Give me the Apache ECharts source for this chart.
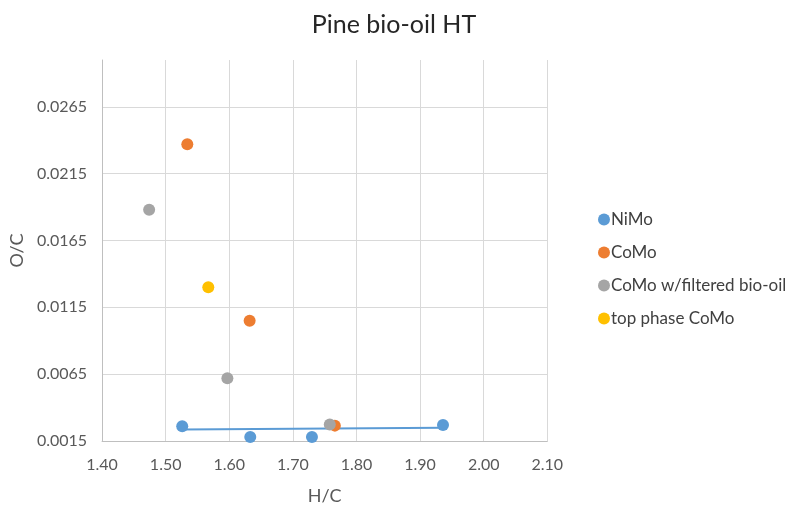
<!DOCTYPE html>
<html>
<head>
<meta charset="utf-8">
<script src="https://cdn.jsdelivr.net/npm/echarts@6/dist/echarts.min.js"></script>
<style>
html,body{margin:0;padding:0;background:#fff;}
#chart{width:785px;height:510px;}
</style>
</head>
<body>
<div id="chart"></div>
<script>
// Data: [H/C, O/C]
const nimo = [[1.526, 0.0026], [1.633, 0.0018], [1.730, 0.0018], [1.936, 0.0027]];
const como = [[1.534, 0.0237], [1.632, 0.0105], [1.766, 0.00265]];
const comoFiltered = [[1.474, 0.0188], [1.597, 0.0062], [1.758, 0.00273]];
const topPhaseComo = [[1.567, 0.0130]];
// NiMo linear trendline end points as drawn in the picture
const nimoTrend = [[1.526, 0.00236], [1.936, 0.00249]];

const seriesNames = ['NiMo', 'CoMo', 'CoMo w/filtered bio-oil', 'top phase CoMo'];
const colors = ['#5B9BD5', '#ED7D31', '#A5A5A5', '#FFC000'];
const xTicks = { min: 1.4, max: 2.1, interval: 0.1 };
const yTicks = { min: 0.0015, max: 0.03, interval: 0.005 };

const FONT = 'Lato';
const chart = echarts.init(document.getElementById('chart'), null, { renderer: 'canvas' });

const scatter = (name, data, color) => ({
  name, type: 'scatter', data, symbol: 'circle', symbolSize: 12,
  itemStyle: { color, opacity: 1 }, emphasis: { disabled: true }, z: 3
});

chart.setOption({
  animation: false,
  backgroundColor: '#ffffff',
  title: {
    text: 'Pine bio-oil HT', top: 7,
    left: 389, textAlign: 'center',
    textStyle: { fontFamily: FONT, fontSize: 25, fontWeight: 'normal', color: '#262626' }
  },
  legend: {
    orient: 'vertical', left: 593, top: 206, itemGap: 16,
    icon: 'circle', itemWidth: 12, itemHeight: 12,
    data: seriesNames,
    textStyle: { fontFamily: FONT, fontSize: 17, color: '#404040', padding: [0, 0, 0, -4] }
  },
  grid: { left: 100.7, right: 237.7, top: 60, bottom: 63.3, containLabel: false },
  xAxis: {
    type: 'value', min: xTicks.min, max: xTicks.max, interval: xTicks.interval,
    name: 'H/C', nameLocation: 'middle', nameGap: 46,
    nameTextStyle: { fontFamily: FONT, fontSize: 18, color: '#595959' },
    axisLine: { show: true, lineStyle: { color: '#BFBFBF', width: 1 } },
    axisTick: { show: false },
    axisLabel: { fontFamily: FONT, fontSize: 16, color: '#595959', margin: 16,
      formatter: v => v.toFixed(2) },
    splitLine: { show: true, lineStyle: { color: '#D9D9D9', width: 1 } }
  },
  yAxis: {
    type: 'value', min: yTicks.min, max: yTicks.max, interval: yTicks.interval,
    name: 'O/C', nameLocation: 'middle', nameGap: 75, nameRotate: 90,
    nameTextStyle: { fontFamily: FONT, fontSize: 18, color: '#595959' },
    axisLine: { show: true, lineStyle: { color: '#BFBFBF', width: 1 } },
    axisTick: { show: false },
    axisLabel: { fontFamily: FONT, fontSize: 16, color: '#595959', margin: 15,
      showMaxLabel: false, formatter: v => v.toFixed(4) },
    splitLine: { show: true, showMaxLine: false, lineStyle: { color: '#D9D9D9', width: 1 } }
  },
  series: [
    scatter(seriesNames[0], nimo, colors[0]),
    scatter(seriesNames[1], como, colors[1]),
    scatter(seriesNames[2], comoFiltered, colors[2]),
    scatter(seriesNames[3], topPhaseComo, colors[3]),
    {
      name: 'Linear (NiMo)', type: 'line', data: nimoTrend, showSymbol: false,
      symbol: 'none', lineStyle: { color: colors[0], width: 1.8 }, z: 2,
      emphasis: { disabled: true }
    }
  ]
});
</script>
</body>
</html>
